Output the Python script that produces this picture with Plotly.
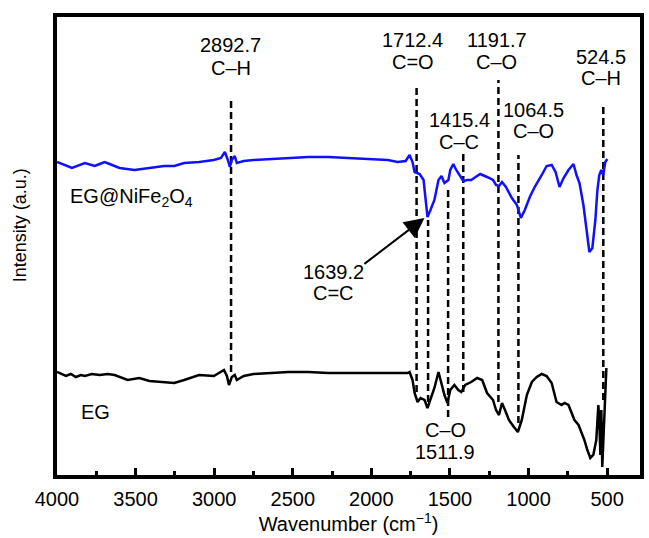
import plotly.graph_objects as go

# EG@NiFe2O4 spectrum (wavenumber, intensity a.u.)
wn_blue = [4000, 3905, 3823, 3760, 3728, 3697, 3665, 3602, 3507, 3412, 3318, 3254, 3191, 3096,
           3002, 2957, 2932, 2913, 2900, 2888, 2869, 2856, 2812, 2749, 2654, 2528, 2401, 2275,
           2149, 2022, 1959, 1896, 1833, 1782, 1757, 1738, 1725, 1693, 1668, 1649, 1643, 1624,
           1599, 1573, 1554, 1535, 1510, 1498, 1479, 1460, 1441, 1415, 1390, 1365, 1346, 1308,
           1264, 1226, 1207, 1188, 1169, 1144, 1106, 1074, 1049, 1024, 992, 961, 916, 885, 853,
           828, 803, 777, 746, 714, 695, 676, 651, 632, 613, 594, 575, 562, 550, 537, 525, 512, 499]
int_blue = [313, 307, 312, 309, 311, 313, 311, 307, 305, 307, 309, 309, 312, 313,
            315, 317, 323, 315, 308, 315, 319, 312, 314, 315, 316, 317, 318, 318,
            317, 316, 316, 315, 313, 314, 320, 313, 303, 301, 295, 270, 258, 265,
            275, 295, 299, 292, 295, 305, 311, 305, 300, 294, 295, 295, 297, 301,
            298, 295, 290, 289, 293, 288, 277, 270, 257, 265, 278, 288, 300, 309, 310,
            303, 288, 297, 305, 311, 300, 292, 270, 245, 223, 227, 255, 285, 300, 305, 300, 313, 316]

# EG spectrum
wn_black = [4000, 3943, 3912, 3880, 3848, 3823, 3779, 3728, 3678, 3633, 3551, 3476, 3412, 3330,
            3254, 3191, 3096, 3002, 2938, 2919, 2906, 2888, 2869, 2856, 2812, 2749, 2654, 2528,
            2401, 2275, 2149, 2022, 1896, 1770, 1757, 1738, 1725, 1706, 1687, 1662, 1643, 1624,
            1599, 1573, 1554, 1535, 1516, 1498, 1472, 1447, 1428, 1403, 1365, 1327, 1295, 1264,
            1226, 1207, 1188, 1169, 1150, 1125, 1093, 1068, 1043, 1011, 979, 948, 916, 885, 853,
            822, 790, 771, 746, 727, 708, 682, 664, 645, 626, 607, 588, 569, 556, 550, 543, 537,
            531, 518, 505]
int_black = [103, 99, 101, 98, 100, 99, 101, 100, 101, 100, 95, 97, 94, 93,
             92, 95, 100, 99, 105, 99, 90, 98, 100, 95, 99, 101, 102, 103,
             103, 102, 102, 102, 102, 102, 103, 95, 82, 73, 77, 75, 67, 75,
             87, 103, 90, 80, 72, 85, 90, 85, 83, 90, 93, 97, 95, 82,
             75, 65, 60, 72, 65, 55, 48, 43, 55, 80, 93, 98, 101, 99, 92,
             73, 70, 72, 70, 62, 55, 50, 43, 35, 25, 17, 20, 35, 70, 55, 20, 65,
             8, 55, 107]

# marked bands
band_wn = [2892.7, 1712.4, 1639.2, 1511.9, 1415.4, 1191.7, 1064.5, 524.5]
band_top = [378, 390, 255, 285, 323, 395, 320, 368]
band_bottom = [103, 83, 73, 58, 83, 73, 52, 75]

# band labels: (x, y, text)
label_x = [2894, 2894, 1738, 1738, 1201, 1201, 537, 537, 1441, 1441, 967, 967, 2243, 2243, 1529, 1529]
label_y = [430, 407, 435, 413, 435, 413, 418, 397, 355, 333, 365, 344, 203, 182, 45, 23]
label_text = ["2892.7", "C\u2013H", "1712.4", "C=O", "1191.7", "C\u2013O", "524.5", "C\u2013H",
              "1415.4", "C\u2013C", "1064.5", "C\u2013O", "1639.2", "C=C", "C\u2013O", "1511.9"]

tick_vals = [4000, 3500, 3000, 2500, 2000, 1500, 1000, 500]
tick_text = ["4000", "3500", "3000", "2500", "2000", "1500", "1000", "500"]
minor_vals = [3750, 3250, 2750, 2250, 1750, 1250, 750]

FONT = "Liberation Sans, Arial, sans-serif"
FS = 20

fig = go.Figure()
fig.add_trace(go.Scatter(x=wn_blue, y=int_blue, mode="lines",
                         line=dict(color="#1010ff", width=2.5), showlegend=False))
fig.add_trace(go.Scatter(x=wn_black, y=int_black, mode="lines",
                         line=dict(color="black", width=2.5), showlegend=False))

for w, t, b in zip(band_wn, band_top, band_bottom):
    fig.add_shape(type="line", x0=w, x1=w, y0=b, y1=t, xref="x", yref="y",
                  line=dict(color="black", width=2.5, dash="7px,4px"), layer="below")

for x, y, t in zip(label_x, label_y, label_text):
    fig.add_annotation(x=x, y=y, text=t, showarrow=False, xref="x", yref="y",
                       font=dict(size=FS, color="black", family=FONT))

# arrow to 1639.2
fig.add_annotation(x=1662, y=257, ax=2054, ay=210, xref="x", yref="y", axref="x", ayref="y",
                   text="", showarrow=True, arrowhead=2, arrowsize=2, arrowwidth=2,
                   arrowcolor="black")

fig.add_annotation(x=3930, y=278, text="EG@NiFe<sub>2</sub>O<sub>4</sub>", showarrow=False,
                   xanchor="left", xref="x", yref="y", font=dict(size=FS, color="black", family=FONT))
fig.add_annotation(x=3860, y=63, text="EG", showarrow=False,
                   xanchor="left", xref="x", yref="y", font=dict(size=FS, color="black", family=FONT))

# y title
fig.add_annotation(x=-0.063, y=0.546, xref="paper", yref="paper", text="Intensity (a.u.)",
                   xanchor="center", yanchor="middle",
                   showarrow=False, textangle=-90, font=dict(size=18, color="black", family=FONT))

fig.update_layout(
    width=649, height=538,
    margin=dict(l=57, r=5, t=17, b=63),
    paper_bgcolor="white", plot_bgcolor="white",
    font=dict(family=FONT, size=FS, color="black"),
    xaxis=dict(range=[4000, 291], showgrid=False, zeroline=False,
               showline=True, linewidth=4, linecolor="black", mirror=True,
               ticks="inside", ticklen=7, tickwidth=3, tickcolor="black",
               tickvals=tick_vals, ticktext=tick_text, ticklabelstandoff=3,
               tickfont=dict(size=FS, family=FONT, color="black"),
               minor=dict(tickvals=minor_vals, ticks="inside",
                          ticklen=4, tickwidth=3, tickcolor="black"),
               title=dict(text="Wavenumber (cm<sup>\u22121</sup>)", standoff=6,
                          font=dict(size=FS, family=FONT, color="black"))),
    yaxis=dict(range=[0, 458], showgrid=False, zeroline=False, showticklabels=False,
               showline=True, linewidth=4, linecolor="black", mirror=True, ticks=""),
)
fig.write_html("out.html")
